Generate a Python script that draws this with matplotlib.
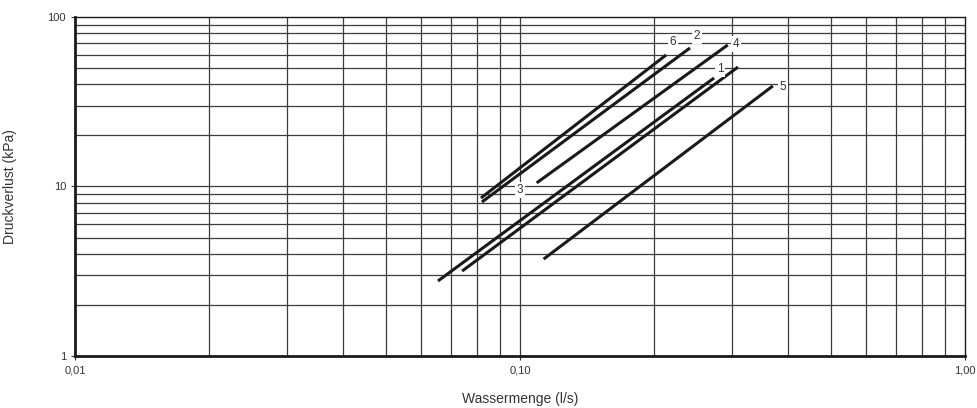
import matplotlib
matplotlib.use('Agg')
import matplotlib.pyplot as plt

plt.rcParams['font.family'] = ['Liberation Sans', 'DejaVu Sans']

# curves: (label, flow start, flow end, dp start, dp end)
names = ['6', '2', '4', '1', '3', '5']
q_start = [0.0817, 0.0821, 0.109, 0.0654, 0.0741, 0.113]
q_end = [0.213, 0.241, 0.293, 0.273, 0.309, 0.370]
dp_start = [8.55, 8.10, 10.5, 2.77, 3.17, 3.73]
dp_end = [59.7, 65.7, 68.4, 43.7, 50.7, 39.2]

# label positions
lab_q = [0.2207, 0.250, 0.3058, 0.2815, 0.100, 0.390]
lab_dp = [71.2, 77.2, 69.3, 49.4, 9.54, 38.6]

xticks = [0.01, 0.1, 1.0]
xticklabels = ['0,01', '0,10', '1,00']
yticks = [1, 10, 100]
yticklabels = ['1', '10', '100']

fig = plt.figure(figsize=(9.78, 4.08), dpi=100)
ax = fig.add_axes([0.0767, 0.1275, 0.91, 0.8308])
ax.set_xscale('log')
ax.set_yscale('log')
ax.set_xlim(0.01, 1.0)
ax.set_ylim(1, 100)

# grid lines
for dec in [0.01, 0.1]:
    for m in range(2, 10):
        ax.axvline(dec * m, color='#3c3c3c', lw=0.9, zorder=1)
for dec in [1, 10]:
    for m in range(2, 10):
        ax.axhline(dec * m, color='#3c3c3c', lw=0.9, zorder=1)
ax.axvline(0.1, color='#3c3c3c', lw=0.9, zorder=1)
ax.axhline(10, color='#3c3c3c', lw=0.9, zorder=1)

for i in range(len(names)):
    ax.plot([q_start[i], q_end[i]], [dp_start[i], dp_end[i]],
            color='#1a1a1a', lw=2.2, solid_capstyle='butt', zorder=3)
    ax.text(lab_q[i], lab_dp[i], names[i], fontsize=8.5, color='#333333',
            ha='center', va='center', zorder=4,
            bbox=dict(facecolor='white', edgecolor='none', pad=1.5))

ax.set_xticks(xticks)
ax.set_xticklabels(xticklabels)
ax.set_yticks(yticks)
ax.set_yticklabels(yticklabels)
ax.minorticks_off()
ax.tick_params(axis='both', labelsize=8, colors='#333333', length=3, width=0.8)
ax.tick_params(axis='x', pad=4)

for s in ['top', 'right']:
    ax.spines[s].set_linewidth(1.0)
    ax.spines[s].set_color('#1a1a1a')
for s in ['bottom', 'left']:
    ax.spines[s].set_linewidth(2.0)
    ax.spines[s].set_color('#1a1a1a')

ax.set_xlabel('Wassermenge (l/s)', fontsize=10, color='#333333', labelpad=12)
ax.set_ylabel('Druckverlust (kPa)', fontsize=10, color='#333333')
ax.yaxis.set_label_coords(-0.065, 0.5)

fig.savefig('out.png', dpi=100)
